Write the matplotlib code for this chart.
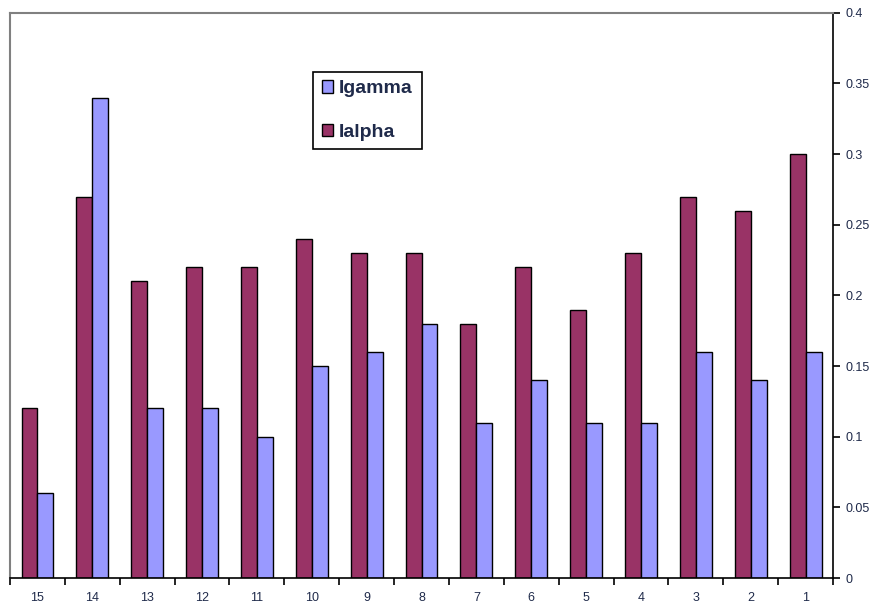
import numpy as np
from matplotlib import pyplot as plt

plt.rcParams['font.family'] = ['Liberation Sans', 'DejaVu Sans']

labels = ['15', '14', '13', '12', '11', '10', '9', '8', '7', '6', '5', '4', '3', '2', '1']
ialpha = [0.12, 0.27, 0.21, 0.22, 0.22, 0.24, 0.23, 0.23, 0.18, 0.22, 0.19, 0.23, 0.27, 0.26, 0.30]
igamma = [0.06, 0.34, 0.12, 0.12, 0.10, 0.15, 0.16, 0.18, 0.11, 0.14, 0.11, 0.11, 0.16, 0.14, 0.16]

fig = plt.figure(figsize=(8.7, 6.11), dpi=100)
ax = fig.add_axes([0.0115, 0.054, 0.946, 0.925])

x = np.arange(len(labels))
w = 0.29
ax.bar(x - w/2, ialpha, w, color='#993366', edgecolor='black', linewidth=1, label='Ialpha', zorder=2)
ax.bar(x + w/2, igamma, w, color='#9999FF', edgecolor='black', linewidth=1, label='Igamma', zorder=2)

ax.set_xlim(-0.5, len(labels) - 0.5)
ax.set_ylim(0, 0.4)
ax.set_yticks(np.arange(0, 0.401, 0.05))
ax.set_yticklabels(['0', '0.05', '0.1', '0.15', '0.2', '0.25', '0.3', '0.35', '0.4'])
ax.yaxis.tick_right()
ax.set_xticks(x)
ax.set_xticklabels(labels)
ax.set_xticks(np.arange(-0.5, len(labels), 1), minor=True)
ax.tick_params(axis='x', which='major', length=0, pad=10, labelsize=9, labelcolor='#1f2a4a')
ax.tick_params(axis='x', which='minor', length=5, width=1.2, direction='out')
ax.tick_params(axis='y', length=5, width=1.2, direction='out', labelsize=9, labelcolor='#1f2a4a', pad=4)

for s in ['top', 'left']:
    ax.spines[s].set_color('#808080')
    ax.spines[s].set_linewidth(1.5)
for s in ['bottom', 'right']:
    ax.spines[s].set_color('black')
    ax.spines[s].set_linewidth(1.2)

h, l = ax.get_legend_handles_labels()
leg = ax.legend(h[::-1], l[::-1], loc='upper left', bbox_to_anchor=(0.368, 0.896),
                borderaxespad=0, fancybox=False, edgecolor='black', framealpha=1,
                prop={'size': 14, 'weight': 'bold'}, handlelength=0.6, handleheight=0.6,
                handletextpad=0.3, labelspacing=1.35, borderpad=0.45)
leg.get_frame().set_linewidth(1.2)
for t in leg.get_texts():
    t.set_color('#1f2a4a')

plt.savefig('out.png', dpi=100)
